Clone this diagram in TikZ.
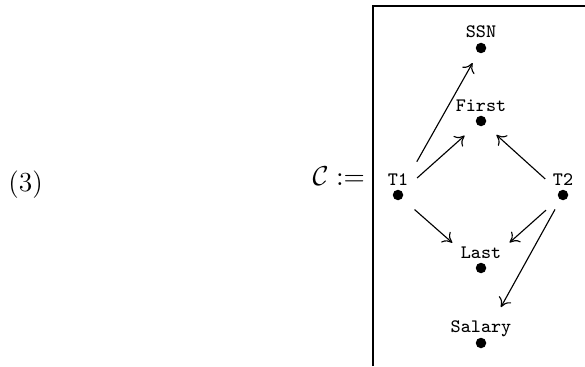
\documentclass[tikz,border=0pt]{standalone}
\usetikzlibrary{arrows.meta}
\begin{document}
\begin{tikzpicture}[x=0.4pt,y=-0.4pt,
  dot/.style={circle,fill=black,inner sep=0pt,minimum size=4.2pt},
  lab/.style={anchor=base,inner sep=0pt,font=\fontsize{7.6}{9}\selectfont\ttfamily},
  arr/.style={line width=0.45pt,-{To[length=3.6pt,width=5.6pt]}},
  big/.style={anchor=base west,inner sep=0pt,font=\fontsize{11}{13}\selectfont},
  frame/.style={line width=0.8pt}]
\useasboundingbox (0,0) rectangle (585,366);
% equation number and definition
\node[big] (eqno) at (8,191) {(3)};
\node[big] (cdef) at (312,185) {$\mathcal{C} :=$};
% frame
\coordinate (fbl) at (373,366);
\coordinate (ftl) at (373,6);
\coordinate (ftr) at (585,6);
\draw[frame] (fbl) -- (ftl) -- (ftr);
% dots
\node[dot] (ssn) at (481,48) {};
\node[dot] (first) at (481,121) {};
\node[dot] (t1) at (398,195) {};
\node[dot] (t2) at (563,195) {};
\node[dot] (last) at (481,268) {};
\node[dot] (salary) at (481,343) {};
% labels
\node[lab] (ssnl) at (481,37.5) {SSN};
\node[lab] (firstl) at (481,111.5) {First};
\node[lab] (t1l) at (398,185.5) {T1};
\node[lab] (t2l) at (563,185.5) {T2};
\node[lab] (lastl) at (481,258.5) {Last};
\node[lab] (salaryl) at (481,332.5) {Salary};
% arrows
\draw[arr,shorten <=13pt,shorten >=4.6pt] (t1) -- (ssn);
\draw[arr,shorten <=7.9pt,shorten >=6.5pt] (t1) -- (first);
\draw[arr,shorten <=7.3pt,shorten >=6pt] (t2) -- (first);
\draw[arr,shorten <=6.5pt,shorten >=13pt] (t1) -- (last);
\draw[arr,shorten <=6.8pt,shorten >=13pt] (t2) -- (last);
\draw[arr,shorten <=4.3pt,shorten >=14.1pt] (t2) -- (salary);
\end{tikzpicture}
\end{document}
